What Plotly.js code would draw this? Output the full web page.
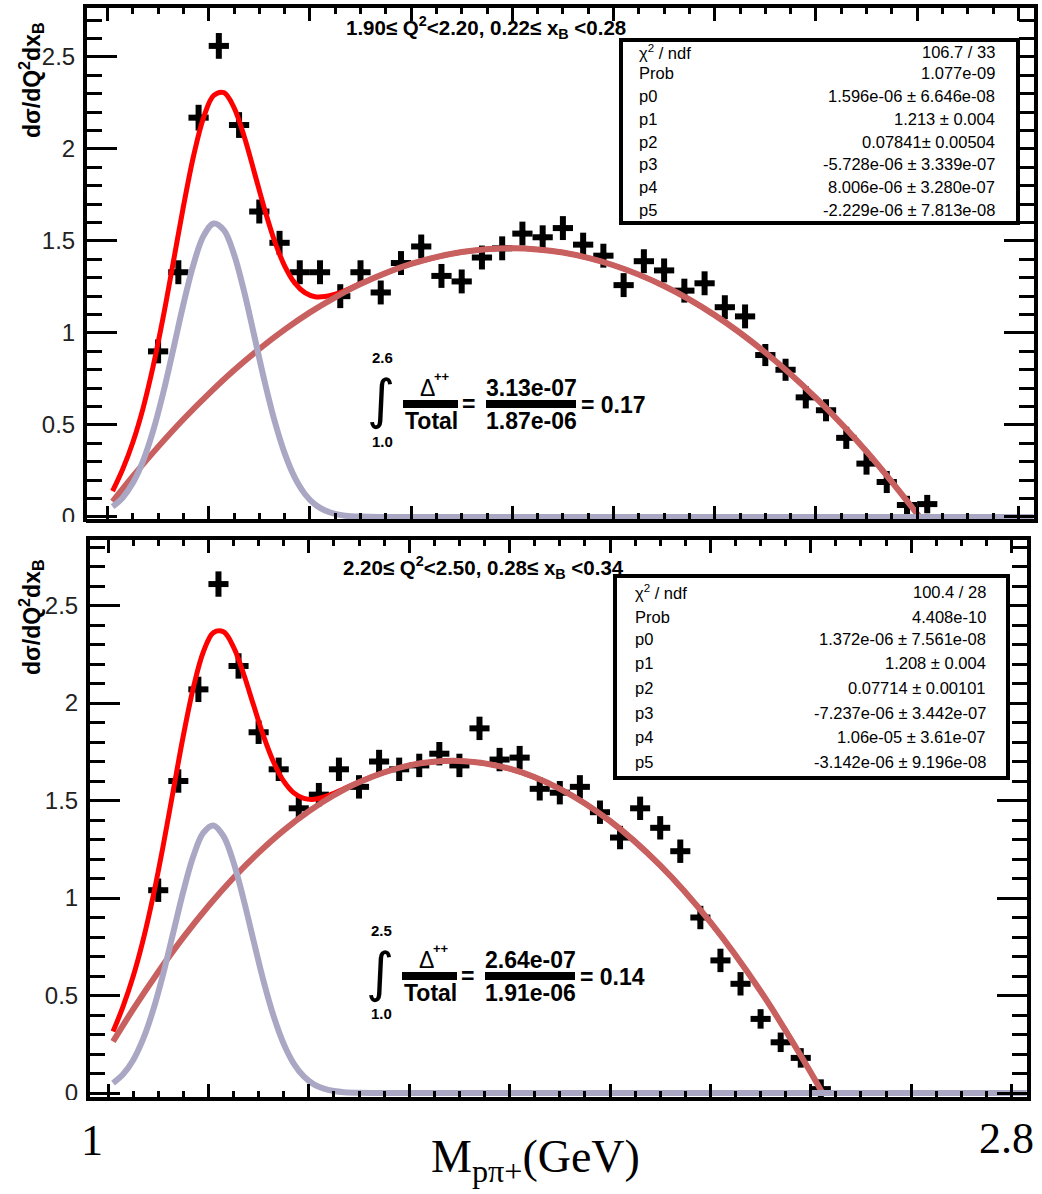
<!DOCTYPE html>
<html><head><meta charset="utf-8">
<script src="https://cdn.plot.ly/plotly-3.0.1.min.js"></script>
<style>html,body{margin:0;padding:0;background:#fff;overflow:hidden} #chart{width:1042px;height:1194px;}</style>
</head><body><div id="chart"></div>
<script>
// ---------------- data (y in units of 1e-6) ----------------
const topBinX = [1.10,1.14,1.18,1.22,1.26,1.30,1.34,1.38,1.42,1.46,1.50,1.54,1.58,1.62,1.66,1.70,1.74,1.78,1.82,1.86,1.90,1.94,1.98,2.02,2.06,2.10,2.14,2.18,2.22,2.26,2.30,2.34,2.38,2.42,2.46,2.50,2.54,2.58,2.62];
const topBinY = [0.90,1.33,2.17,2.56,2.13,1.66,1.49,1.33,1.33,1.20,1.33,1.22,1.38,1.47,1.31,1.28,1.41,1.46,1.54,1.52,1.57,1.48,1.42,1.26,1.39,1.34,1.23,1.27,1.14,1.09,0.88,0.80,0.65,0.58,0.43,0.29,0.19,0.065,0.07];
const topBinErr = [0.065,0.065,0.07,0.07,0.07,0.065,0.065,0.065,0.065,0.065,0.065,0.065,0.065,0.065,0.065,0.065,0.065,0.065,0.065,0.065,0.065,0.065,0.065,0.065,0.065,0.065,0.065,0.065,0.065,0.065,0.06,0.06,0.06,0.06,0.06,0.06,0.06,0.05,0.05];

const botBinX = [1.10,1.14,1.18,1.22,1.26,1.30,1.34,1.38,1.42,1.46,1.50,1.54,1.58,1.62,1.66,1.70,1.74,1.78,1.82,1.86,1.90,1.94,1.98,2.02,2.06,2.10,2.14,2.18,2.22,2.26,2.30,2.34,2.38,2.42];
const botBinY = [1.04,1.60,2.07,2.61,2.19,1.85,1.66,1.46,1.53,1.66,1.57,1.70,1.66,1.68,1.74,1.68,1.87,1.71,1.72,1.56,1.54,1.57,1.44,1.31,1.46,1.36,1.24,0.90,0.68,0.56,0.38,0.26,0.18,0.02];
const botBinErr = [0.06,0.06,0.065,0.065,0.065,0.06,0.06,0.06,0.06,0.06,0.06,0.06,0.06,0.06,0.06,0.06,0.06,0.06,0.06,0.06,0.06,0.06,0.06,0.06,0.06,0.06,0.06,0.06,0.06,0.06,0.05,0.05,0.05,0.05];
const binHalfWidth = 0.02;

// fit curves, sampled along the drawn lines
const topTotalX = [1.01,1.03,1.05,1.07,1.09,1.11,1.13,1.15,1.17,1.19,1.21,1.23,1.25,1.27,1.29,1.31,1.33,1.35,1.37,1.39,1.41,1.43,1.45,1.47,1.50,1.55,1.6,1.7,1.8,1.9,2.0,2.1,2.2,2.3,2.4,2.5,2.605];
const topTotalY = [0.140,0.259,0.405,0.588,0.816,1.085,1.384,1.687,1.961,2.172,2.291,2.306,2.225,2.069,1.875,1.677,1.501,1.365,1.272,1.219,1.197,1.198,1.211,1.231,1.268,1.326,1.375,1.440,1.461,1.437,1.368,1.255,1.097,0.894,0.647,0.356,0];
const topBgX = [1.01,1.05,1.1,1.15,1.2,1.25,1.3,1.35,1.4,1.45,1.5,1.6,1.7,1.8,1.9,2.0,2.1,2.2,2.3,2.4,2.5,2.605];
const topBgY = [0.084,0.221,0.381,0.531,0.669,0.797,0.913,1.018,1.112,1.194,1.266,1.375,1.440,1.461,1.437,1.368,1.255,1.097,0.894,0.647,0.356,0];
const topSigX = [1.01,1.03,1.05,1.07,1.09,1.11,1.13,1.15,1.17,1.19,1.21,1.23,1.25,1.27,1.29,1.31,1.33,1.35,1.37,1.39,1.41,1.43,1.45,1.47,1.50,1.55,2.83];
const topSigY = [0.056,0.105,0.184,0.302,0.466,0.673,0.911,1.156,1.373,1.529,1.595,1.559,1.428,1.225,0.985,0.742,0.524,0.347,0.215,0.125,0.068,0.035,0.017,0.007,0.002,0,0];

const botTotalX = [1.01,1.03,1.05,1.07,1.09,1.11,1.13,1.15,1.17,1.19,1.21,1.23,1.25,1.27,1.29,1.31,1.33,1.35,1.37,1.39,1.41,1.43,1.45,1.47,1.50,1.55,1.6,1.7,1.8,1.9,2.0,2.1,2.2,2.3,2.4,2.423];
const botTotalY = [0.315,0.444,0.597,0.785,1.010,1.270,1.552,1.832,2.079,2.263,2.361,2.365,2.287,2.150,1.988,1.829,1.696,1.599,1.539,1.511,1.506,1.518,1.537,1.560,1.595,1.644,1.680,1.703,1.663,1.560,1.395,1.167,0.876,0.522,0.105,0];
const botBgX = [1.01,1.05,1.1,1.15,1.2,1.25,1.3,1.35,1.4,1.45,1.5,1.6,1.7,1.8,1.9,2.0,2.1,2.2,2.3,2.4,2.423];
const botBgY = [0.264,0.429,0.621,0.798,0.959,1.104,1.233,1.347,1.445,1.527,1.594,1.680,1.703,1.663,1.560,1.395,1.167,0.876,0.522,0.105,0];
const botSigX = [1.01,1.03,1.05,1.07,1.09,1.11,1.13,1.15,1.17,1.19,1.21,1.23,1.25,1.27,1.29,1.31,1.33,1.35,1.37,1.39,1.41,1.43,1.45,1.47,1.50,1.55,2.83];
const botSigY = [0.051,0.096,0.168,0.277,0.426,0.612,0.823,1.034,1.215,1.335,1.372,1.317,1.183,0.993,0.780,0.572,0.393,0.252,0.151,0.085,0.044,0.022,0.010,0.004,0.001,0,0];

// texts
const topTitle = '1.90≤ Q<sup>2</sup><2.20, 0.22≤ x<sub>B</sub> <0.28';
const botTitle = '2.20≤ Q<sup>2</sup><2.50, 0.28≤ x<sub>B</sub> <0.34';
const statLabels = ['χ<sup>2</sup> / ndf','Prob','p0','p1','p2','p3','p4','p5'];
const topStatValues = ['106.7 / 33','1.077e-09','1.596e-06 ± 6.646e-08','1.213 ± 0.004','0.07841± 0.00504','-5.728e-06 ± 3.339e-07','8.006e-06 ± 3.280e-07','-2.229e-06 ± 7.813e-08'];
const botStatValues = ['100.4 / 28','4.408e-10','1.372e-06 ± 7.561e-08','1.208 ± 0.004','0.07714 ± 0.00101','-7.237e-06 ± 3.442e-07','1.06e-05 ± 3.61e-07','-3.142e-06 ± 9.196e-08'];
const topIntegral = {upper:'2.6', lower:'1.0', num:'3.13e-07', den:'1.87e-06', ratio:'= 0.17'};
const botIntegral = {upper:'2.5', lower:'1.0', num:'2.64e-07', den:'1.91e-06', ratio:'= 0.14'};
const yTitle = 'dσ/dQ<sup>2</sup>dx<sub>B</sub>';
const xTitle = 'M<sub>pπ+</sub>(GeV)';
const xEndLabels = ['1','2.8'];

// ---------------- styling / layout ----------------
const W = 1042, H = 1194;
const px = v => v / W;
const py = v => 1 - v / H;
const NARROW = "'Liberation Sans Narrow', 'Arial Narrow', 'Liberation Sans', Arial, sans-serif";
const SANS = "'Liberation Sans', Arial, sans-serif";
const SERIF = "'Liberation Serif', 'Times New Roman', serif";
const RED = '#ff0000', BG = '#c86060', SIG = '#aaa7c4';

function pointsTrace(x, y, e, xa, ya) {
  return {x, y, type:'scatter', mode:'markers', xaxis:xa, yaxis:ya,
    marker:{color:'#000', size:6, symbol:'square'},
    error_x:{type:'constant', value:binHalfWidth, color:'#000', thickness:6, width:0},
    error_y:{type:'data', array:e, color:'#000', thickness:6, width:0},
    showlegend:false, hoverinfo:'skip'};
}
function lineTrace(x, y, color, w, xa, ya) {
  return {x, y, type:'scatter', mode:'lines', xaxis:xa, yaxis:ya,
    line:{color, width:w, shape:'spline', smoothing:1}, showlegend:false, hoverinfo:'skip'};
}

const traces = [
  pointsTrace(topBinX, topBinY, topBinErr, 'x', 'y'),
  lineTrace(topTotalX, topTotalY, RED, 5, 'x', 'y'),
  lineTrace(topBgX, topBgY, BG, 6, 'x', 'y'),
  lineTrace(topSigX, topSigY, SIG, 6, 'x', 'y'),
  pointsTrace(botBinX, botBinY, botBinErr, 'x2', 'y2'),
  lineTrace(botTotalX, botTotalY, RED, 5, 'x2', 'y2'),
  lineTrace(botBgX, botBgY, BG, 6, 'x2', 'y2'),
  lineTrace(botSigX, botSigY, SIG, 6, 'x2', 'y2'),
];

function xAxis(domPx, range, anchor) {
  return {domain:[px(domPx[0]), px(domPx[1])], range, anchor, showticklabels:false,
    ticks:'inside', tick0:1, dtick:0.2, ticklen:13, tickwidth:3, tickcolor:'#000',
    minor:{ticks:'inside', dtick:0.05, ticklen:6, tickwidth:3, tickcolor:'#000', showgrid:false},
    showline:true, linewidth:4, linecolor:'#000', mirror:'allticks',
    showgrid:false, zeroline:false, fixedrange:true};
}
function yAxis(domPx, range, anchor) {
  return {domain:[py(domPx[1]), py(domPx[0])], range, anchor,
    ticks:'inside', tick0:0, dtick:0.5, ticklen:30, tickwidth:3, tickcolor:'#000',
    minor:{ticks:'inside', dtick:0.1, ticklen:15, tickwidth:3, tickcolor:'#000', showgrid:false},
    tickfont:{family:NARROW, size:24, color:'#222'}, ticklabelstandoff:3,
    showline:true, linewidth:4, linecolor:'#000', mirror:'allticks',
    showgrid:false, zeroline:false, fixedrange:true};
}

const shapes = [];
const annotations = [];
function ann(text, xp, yp, opts) {
  annotations.push(Object.assign({text, xref:'paper', yref:'paper', x:px(xp), y:py(yp),
    showarrow:false, xanchor:'center', yanchor:'middle',
    font:{family:NARROW, size:17, color:'#000'}}, opts || {}));
}
function rect(x0, y0, x1, y1, opts) {
  shapes.push(Object.assign({type:'rect', xref:'paper', yref:'paper',
    x0:px(x0), x1:px(x1), y0:py(y1), y1:py(y0), layer:'above'}, opts));
}

// white gaps that hide the lower half of the "0" labels, as in the stacked reference canvases
rect(0, 522, 86, 536, {fillcolor:'#fff', line:{width:0}});
rect(0, 1100, 86, 1112, {fillcolor:'#fff', line:{width:0}});

function statBox(box, labelX, valueX, rowsY, values) {
  rect(box[0], box[1], box[2], box[3], {fillcolor:'#fff', line:{color:'#000', width:4}});
  const f = {family:NARROW, size:16.5, color:'#000'};
  statLabels.forEach((t, i) => ann(t, labelX, rowsY[i], {xanchor:'left', font:f}));
  values.forEach((t, i) => ann(t, valueX, rowsY[i], {xanchor:'right', font:f}));
}
statBox([621, 40, 1018, 223], 637, 997, [52, 73, 96, 119, 142, 164, 187, 210], topStatValues);
statBox([615, 576, 1008, 778], 633, 988, [592, 617, 639, 663, 688, 713, 737, 762], botStatValues);

function integralBlock(o, it) {
  const B = {family:NARROW, size:23, color:'#000', weight:'bold'};
  const S = {family:NARROW, size:15, color:'#000', weight:'bold'};
  ann(it.upper, o.x + 6, o.y - 46, {font:S});
  ann(it.lower, o.x + 6, o.y + 37, {font:S});
  ann('∫', o.x + 5, o.y - 4, {font:{family:"'DejaVu Sans', sans-serif", size:54, color:'#000'}});
  rect(o.x + 27, o.y - 4, o.x + 82, o.y + 4, {fillcolor:'#000', line:{width:0}});
  ann('Δ', o.x + 51, o.y - 16, {font:{family:SANS, size:23, color:'#000'}});
  ann('++', o.x + 66, o.y - 28, {font:{family:NARROW, size:13, color:'#000', weight:'bold'}});
  ann('Total', o.x + 55, o.y + 17, {font:B});
  ann('=', o.x + 92, o.y, {font:B});
  rect(o.x + 110, o.y - 4, o.x + 200, o.y + 4, {fillcolor:'#000', line:{width:0}});
  ann(it.num, o.x + 155, o.y - 16, {font:B});
  ann(it.den, o.x + 155, o.y + 17, {font:B});
  ann(it.ratio, o.x + 203, o.y + 1, {xanchor:'left', font:B});
}
integralBlock({x:376, y:404}, topIntegral);
integralBlock({x:375, y:976}, botIntegral);

// panel titles
ann(topTitle, 486, 27, {font:{family:NARROW, size:20.5, color:'#000', weight:'bold'}});
ann(botTitle, 483, 567, {font:{family:NARROW, size:20.5, color:'#000', weight:'bold'}});
// y titles
ann(yTitle, 31, 80, {textangle:-90, font:{family:SANS, size:23, color:'#000', weight:'bold'}});
ann(yTitle, 31, 617, {textangle:-90, font:{family:SANS, size:23, color:'#000', weight:'bold'}});
// outer x labels
ann(xEndLabels[0], 92, 1140, {font:{family:SERIF, size:44, color:'#000'}});
ann(xEndLabels[1], 977, 1138, {xanchor:'left', font:{family:SERIF, size:44, color:'#000'}});
ann(xTitle, 535, 1160, {font:{family:SERIF, size:46, color:'#000'}});

const layout = {
  width:W, height:H, margin:{l:0, r:0, t:0, b:0},
  paper_bgcolor:'#fff', plot_bgcolor:'#fff', showlegend:false,
  xaxis: xAxis([87, 1034], [0.9595, 2.831], 'y'),
  yaxis: yAxis([8, 519], [-0.011, 2.766], 'x'),
  xaxis2: xAxis([90, 1027], [0.9641, 2.8307], 'y2'),
  yaxis2: yAxis([540, 1097], [-0.0205, 2.836], 'x2'),
  shapes, annotations
};

Plotly.newPlot('chart', traces, layout, {staticPlot:true, displayModeBar:false});
</script>
</body></html>
